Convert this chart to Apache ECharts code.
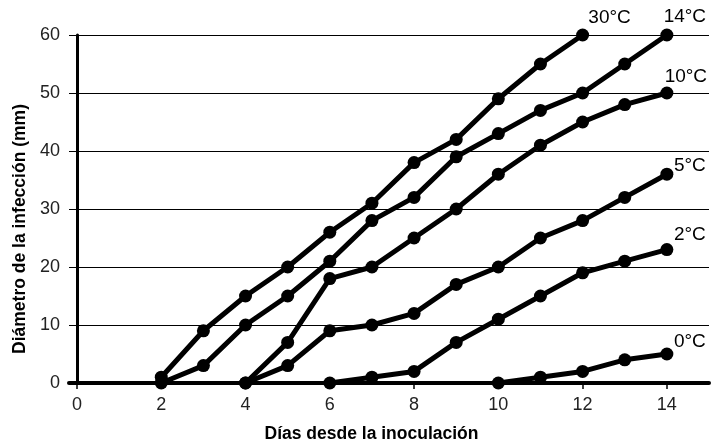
<!DOCTYPE html>
<html>
<head>
<meta charset="utf-8">
<style>
  html, body { margin: 0; padding: 0; background: #fff; }
  #chart { width: 714px; height: 444px; }
</style>
<script src="https://cdn.jsdelivr.net/npm/echarts@6/dist/echarts.min.js"></script>
</head>
<body>
<div id="chart"></div>
<script>
// Lesion diameter (mm) by days after inoculation, one series per temperature
const dayTicks = [0, 2, 4, 6, 8, 10, 12, 14];

const days30 = [2, 3, 4, 5, 6, 7, 8, 9, 10, 11, 12];
const diam30 = [1, 9, 15, 20, 26, 31, 38, 42, 49, 55, 60];

const days14 = [2, 3, 4, 5, 6, 7, 8, 9, 10, 11, 12, 13, 14];
const diam14 = [0, 3, 10, 15, 21, 28, 32, 39, 43, 47, 50, 55, 60];

const days10 = [4, 5, 6, 7, 8, 9, 10, 11, 12, 13, 14];
const diam10 = [0, 7, 18, 20, 25, 30, 36, 41, 45, 48, 50];

const days5 = [4, 5, 6, 7, 8, 9, 10, 11, 12, 13, 14];
const diam5 = [0, 3, 9, 10, 12, 17, 20, 25, 28, 32, 36];

const days2 = [6, 7, 8, 9, 10, 11, 12, 13, 14];
const diam2 = [0, 1, 2, 7, 11, 15, 19, 21, 23];

const days0 = [10, 11, 12, 13, 14];
const diam0 = [0, 1, 2, 4, 5];

const seriesDefs = [
  { name: '30°C', x: days30, y: diam30, offset: [27, 4] },
  { name: '14°C', x: days14, y: diam14, offset: [18, 3] },
  { name: '10°C', x: days10, y: diam10, offset: [19, 5] },
  { name: '5°C',  x: days5,  y: diam5,  offset: [23, 13] },
  { name: '2°C',  x: days2,  y: diam2,  offset: [23, 6] },
  { name: '0°C',  x: days0,  y: diam0,  offset: [23, 9] }
];

const FONT = '"Liberation Sans", Arial, Helvetica, sans-serif';

function buildSeries(def) {
  const last = def.x.length - 1;
  return {
    name: def.name,
    type: 'line',
    symbol: 'circle',
    symbolSize: 13,
    lineStyle: { color: '#000', width: 5 },
    itemStyle: { color: '#000' },
    z: 3,
    data: def.x.map((d, i) => {
      const pt = { value: [d, def.y[i]] };
      if (i === last) {
        pt.label = {
          show: true,
          position: 'top',
          offset: def.offset,
          formatter: def.name,
          color: '#000',
          fontFamily: FONT,
          fontSize: 19
        };
      }
      return pt;
    })
  };
}

const chart = echarts.init(document.getElementById('chart'), null, { renderer: 'canvas' });
chart.setOption({
  animation: false,
  backgroundColor: '#fff',
  grid: { left: 69, right: 5, top: 35, bottom: 61, containLabel: false, outerBoundsMode: 'none' },
  xAxis: {
    type: 'value',
    min: -0.19,
    max: 15,
    name: 'Días desde la inoculación',
    nameLocation: 'middle',
    nameGap: 42,
    nameTextStyle: { color: '#000', fontFamily: FONT, fontSize: 17.5, fontWeight: 'bold', padding: [0, 35, 0, 0] },
    axisLine: { onZero: true, lineStyle: { color: '#000', width: 4 } },
    axisTick: { show: true, customValues: dayTicks, length: 6, lineStyle: { color: '#000', width: 1.5 } },
    axisLabel: { customValues: dayTicks, margin: 13, color: '#222', fontFamily: FONT, fontSize: 18 },
    splitLine: { show: false }
  },
  yAxis: {
    type: 'value',
    min: 0,
    max: 60,
    interval: 10,
    name: 'Diámetro de la infección (mm)',
    nameLocation: 'middle',
    nameGap: 38,
    nameTextStyle: { color: '#000', fontFamily: FONT, fontSize: 17.5, fontWeight: 'bold', padding: [0, 40, 0, 0] },
    axisLine: { show: true, onZero: true, lineStyle: { color: '#000', width: 3 } },
    axisTick: { show: true, length: 8, lineStyle: { color: '#000', width: 1 } },
    axisLabel: { margin: 9, color: '#222', fontFamily: FONT, fontSize: 18 },
    splitLine: { show: true, lineStyle: { color: '#000', width: 1 } }
  },
  series: seriesDefs.map(buildSeries)
});
</script>
</body>
</html>
